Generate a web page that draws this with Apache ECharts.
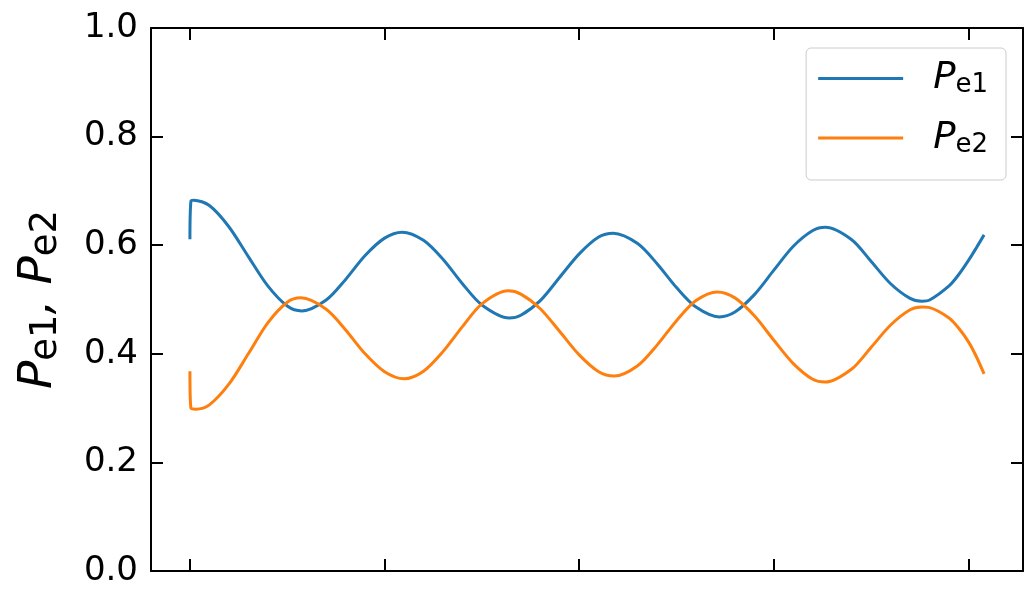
<!DOCTYPE html>
<html>
<head>
<meta charset="utf-8">
<script src="https://cdn.jsdelivr.net/npm/echarts@6/dist/echarts.min.js"></script>
<style>
html,body{margin:0;padding:0;background:#fff;}
#chart{width:1026px;height:589px;}
</style>
</head>
<body>
<div id="chart"></div>
<script>
// Data
const pe1X = [0, 0.005, 0.02, 0.1, 0.2, 0.3, 0.4, 0.5, 0.575, 0.7, 0.8, 0.9, 1.0, 1.09, 1.2, 1.3, 1.4, 1.5, 1.64, 1.7, 1.8, 1.9, 2.0, 2.1, 2.175, 2.3, 2.4, 2.5, 2.6, 2.72, 2.8, 2.9, 3.0, 3.1, 3.2, 3.265, 3.4, 3.5, 3.6, 3.7, 3.76, 3.8, 3.9, 3.95, 4.0, 4.04, 4.08];
const pe1Y = [0.611, 0.681, 0.683, 0.673, 0.634, 0.579, 0.525, 0.488, 0.479, 0.499, 0.537, 0.581, 0.613, 0.624, 0.609, 0.574, 0.529, 0.490, 0.466, 0.471, 0.498, 0.541, 0.584, 0.615, 0.622, 0.603, 0.566, 0.522, 0.486, 0.468, 0.477, 0.509, 0.554, 0.598, 0.627, 0.633, 0.610, 0.570, 0.529, 0.502, 0.497, 0.499, 0.525, 0.546, 0.572, 0.595, 0.619];
const pe2X = [0, 0.005, 0.03, 0.1, 0.2, 0.3, 0.4, 0.5, 0.57, 0.7, 0.8, 0.9, 1.0, 1.1, 1.2, 1.3, 1.4, 1.5, 1.635, 1.7, 1.8, 1.9, 2.0, 2.1, 2.18, 2.3, 2.4, 2.5, 2.6, 2.71, 2.8, 2.9, 3.0, 3.1, 3.2, 3.265, 3.4, 3.5, 3.6, 3.7, 3.76, 3.8, 3.9, 3.95, 4.0, 4.04, 4.08];
const pe2Y = [0.368, 0.300, 0.298, 0.306, 0.344, 0.400, 0.457, 0.495, 0.503, 0.482, 0.444, 0.400, 0.367, 0.354, 0.368, 0.404, 0.450, 0.492, 0.516, 0.510, 0.483, 0.441, 0.398, 0.367, 0.359, 0.378, 0.416, 0.461, 0.498, 0.514, 0.503, 0.470, 0.425, 0.382, 0.353, 0.348, 0.372, 0.412, 0.453, 0.481, 0.486, 0.485, 0.466, 0.447, 0.422, 0.395, 0.363];
const xTicks = [0, 1, 2, 3, 4];
const yTicks = [0, 0.2, 0.4, 0.6, 0.8, 1.0];
const yTickLabels = ['0.0', '0.2', '0.4', '0.6', '0.8', '1.0'];
const seriesNames = ['Pe1', 'Pe2'];
const legendLabels = {Pe1: ['P', 'e1'], Pe2: ['P', 'e2']};

const FONT = 'DejaVu Sans';
const zip = (xs, ys) => xs.map((x, i) => [x, ys[i]]);

const chart = echarts.init(document.getElementById('chart'), null, {renderer: 'canvas'});

const axisLineStyle = {color: '#000', width: 2};
function tickStyle(extra) {
  return Object.assign({show: true, inside: true, length: 12, lineStyle: {color: '#000', width: 2}}, extra || {});
}

const option = {
  backgroundColor: '#ffffff',
  animation: false,
  grid: {left: 151, right: 3, top: 28, bottom: 18, containLabel: false, outerBoundsMode: 'none'},
  legend: {
    right: 20, top: 48,
    orient: 'vertical',
    icon: 'rect',
    itemWidth: 85, itemHeight: 3,
    itemGap: 21,
    padding: [12, 18, 22, 12],
    backgroundColor: 'rgba(255,255,255,0.8)',
    borderColor: '#cccccc', borderWidth: 1, borderRadius: 5,
    formatter: function (name) {
      const t = legendLabels[name];
      return '{g|}{P|' + t[0] + '}{s|' + t[1] + '}';
    },
    textStyle: {
      fontFamily: FONT, color: '#000',
      rich: {
        g: {width: 25},
        P: {fontFamily: FONT, fontStyle: 'italic', fontSize: 37, color: '#000', lineHeight: 40},
        s: {fontFamily: FONT, fontSize: 26, color: '#000', padding: [14, 0, 0, 0]}
      }
    },
    data: seriesNames
  },
  xAxis: [
    {
      type: 'value', position: 'bottom', min: -0.2, max: 4.28,
      axisLine: {show: true, onZero: false, lineStyle: axisLineStyle},
      axisTick: tickStyle({customValues: xTicks}),
      axisLabel: {show: false},
      splitLine: {show: false}
    },
    {
      type: 'value', position: 'top', min: -0.2, max: 4.28,
      axisLine: {show: true, onZero: false, lineStyle: axisLineStyle},
      axisTick: tickStyle({customValues: xTicks}),
      axisLabel: {show: true, customValues: xTicks, formatter: function () { return ''; }},
      splitLine: {show: false}
    }
  ],
  yAxis: [
    {
      type: 'value', position: 'left', min: 0, max: 1, interval: 0.2,
      axisLine: {show: true, onZero: false, lineStyle: axisLineStyle},
      axisTick: tickStyle(),
      axisLabel: {
        show: true, fontFamily: FONT, fontSize: 34, color: '#000', margin: 13,
        formatter: function (v) { return yTickLabels[Math.round(v / 0.2)]; }
      },
      splitLine: {show: false},
      name: '{P|P}{s|e1}{P|, P}{s|e2}',
      nameLocation: 'middle',
      nameRotate: 90,
      nameGap: 86,
      nameTextStyle: {
        rich: {
          P: {fontFamily: FONT, fontStyle: 'italic', fontSize: 47, color: '#000', lineHeight: 50},
          s: {fontFamily: FONT, fontSize: 37, color: '#000', padding: [16, 0, 0, 0]}
        }
      }
    },
    {
      type: 'value', position: 'right', min: 0, max: 1, interval: 0.2,
      axisLine: {show: true, onZero: false, lineStyle: axisLineStyle},
      axisTick: tickStyle({customValues: yTicks}),
      axisLabel: {show: false},
      splitLine: {show: false}
    }
  ],
  series: [
    {
      name: seriesNames[0], type: 'line', xAxisIndex: 0, yAxisIndex: 0,
      data: zip(pe1X, pe1Y), showSymbol: false, symbol: 'none',
      smooth: 0.3,
      lineStyle: {color: '#1f77b4', width: 3}, itemStyle: {color: '#1f77b4'}
    },
    {
      name: seriesNames[1], type: 'line', xAxisIndex: 0, yAxisIndex: 0,
      data: zip(pe2X, pe2Y), showSymbol: false, symbol: 'none',
      smooth: 0.3,
      lineStyle: {color: '#ff7f0e', width: 3}, itemStyle: {color: '#ff7f0e'}
    },
    {
      name: 'frame', type: 'line', xAxisIndex: 1, yAxisIndex: 1,
      data: zip(pe1X, pe1Y), showSymbol: false, symbol: 'none', silent: true,
      lineStyle: {opacity: 0, width: 0}, z: 0
    }
  ]
};
chart.setOption(option);
</script>
</body>
</html>
